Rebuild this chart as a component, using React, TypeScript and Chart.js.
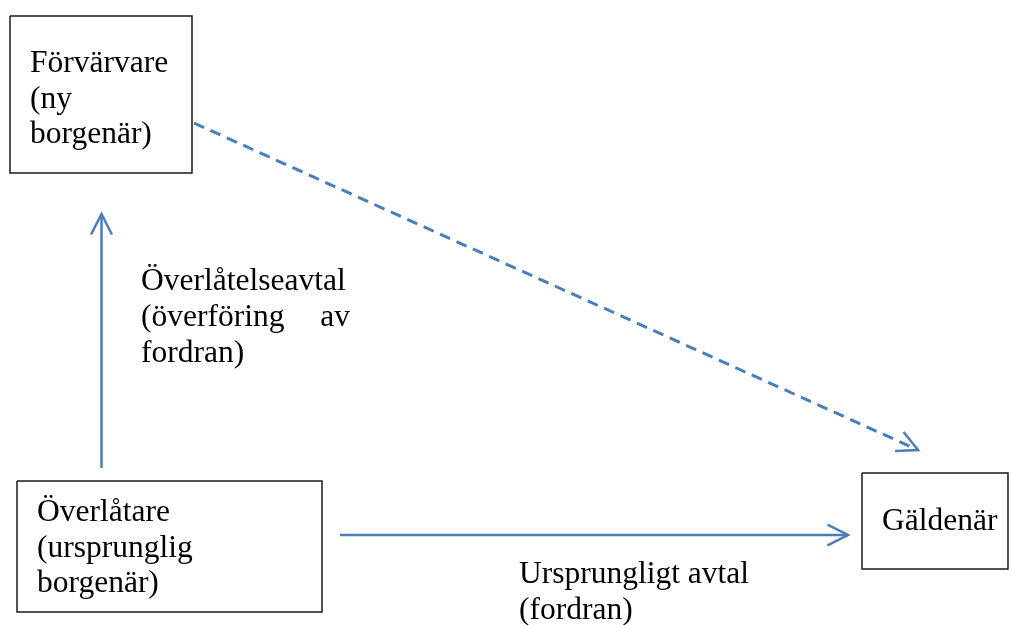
import React, { useEffect, useRef } from "react";
import { Chart, registerables } from "chart.js";
Chart.register(...registerables);

// Nodes (boxes) of the diagram, in diagram units (x: 0..1012, y: 0..625 downward)
const nodeLines: string[][] = [
  ["Förvärvare", "(ny", "borgenär)"],
  ["Överlåtare", "(ursprunglig", "borgenär)"],
  ["Gäldenär"],
];
const nodeLeft = [10, 17, 862];
const nodeTop = [16, 481, 473];
const nodeRight = [192, 322, 1008];
const nodeBottom = [173, 612, 569];
const nodeTextX = [30, 37, 882];
const nodeTextY = [72, 521, 530];

// Arrows between nodes
const edgeFromX = [101.5, 340, 194];
const edgeFromY = [468, 535, 123];
const edgeToX = [101.5, 848, 918];
const edgeToY = [214, 535, 450];
const edgeDashed = [false, false, true];

// Edge labels
const labelTexts = [
  "Överlåtelseavtal",
  "(överföring",
  "av",
  "fordran)",
  "Ursprungligt avtal",
  "(fordran)",
];
const labelX = [141, 141, 350, 141, 519, 519];
const labelY = [290, 326, 326, 362, 583, 619];
const labelAlign: CanvasTextAlign[] = ["left", "left", "right", "left", "left", "left"];

const LINE_HEIGHT = 35.5;
const BLUE = "#4A7EBB";

function arrowHead(x0: number, y0: number, x1: number, y1: number) {
  const ang = Math.atan2(y1 - y0, x1 - x0);
  const len = 23;
  const spread = (27 * Math.PI) / 180;
  return [
    { x: x1 - len * Math.cos(ang - spread), y: y1 - len * Math.sin(ang - spread) },
    { x: x1, y: y1 },
    { x: x1 - len * Math.cos(ang + spread), y: y1 - len * Math.sin(ang + spread) },
  ];
}

const textPlugin = {
  id: "diagramText",
  afterDatasetsDraw(chart: any) {
    const { ctx, scales } = chart;
    const sx = scales.x;
    const sy = scales.y;
    ctx.save();
    ctx.fillStyle = "#000";
    ctx.font = "31.5px 'Liberation Serif', 'Times New Roman', serif";
    ctx.textBaseline = "alphabetic";
    nodeLines.forEach((lines, i) => {
      lines.forEach((t, j) => {
        ctx.textAlign = "left";
        ctx.fillText(t, sx.getPixelForValue(nodeTextX[i]), sy.getPixelForValue(nodeTextY[i] + j * LINE_HEIGHT));
      });
    });
    labelTexts.forEach((t, i) => {
      ctx.textAlign = labelAlign[i];
      ctx.fillText(t, sx.getPixelForValue(labelX[i]), sy.getPixelForValue(labelY[i]));
    });
    ctx.restore();
  },
};

export default function App() {
  const ref = useRef<HTMLCanvasElement | null>(null);
  useEffect(() => {
    if (!ref.current) return;
    const datasets: any[] = [];
    nodeLines.forEach((_, i) => {
      datasets.push({
        data: [
          { x: nodeLeft[i], y: nodeTop[i] },
          { x: nodeRight[i], y: nodeTop[i] },
          { x: nodeRight[i], y: nodeBottom[i] },
          { x: nodeLeft[i], y: nodeBottom[i] },
          { x: nodeLeft[i], y: nodeTop[i] },
        ],
        showLine: true,
        borderColor: "#1a1a1a",
        borderWidth: 1.5,
        pointRadius: 0,
        fill: false,
        tension: 0,
        clip: false,
      });
    });
    edgeFromX.forEach((_, i) => {
      datasets.push({
        data: [
          { x: edgeFromX[i], y: edgeFromY[i] },
          { x: edgeToX[i], y: edgeToY[i] },
        ],
        showLine: true,
        borderColor: BLUE,
        borderWidth: edgeDashed[i] ? 3 : 2.5,
        borderDash: edgeDashed[i] ? [11, 7] : [],
        pointRadius: 0,
        fill: false,
        clip: false,
      });
      datasets.push({
        data: arrowHead(edgeFromX[i], edgeFromY[i], edgeToX[i], edgeToY[i]),
        showLine: true,
        borderColor: BLUE,
        borderWidth: 2.5,
        borderJoinStyle: "miter",
        pointRadius: 0,
        fill: false,
        clip: false,
      });
    });
    const chart = new Chart(ref.current, {
      type: "scatter",
      data: { datasets },
      options: {
        animation: false,
        responsive: true,
        maintainAspectRatio: false,
        events: [],
        layout: { padding: 0 },
        plugins: { legend: { display: false }, tooltip: { enabled: false } },
        scales: {
          x: { type: "linear", min: 0, max: 1012, display: false },
          y: { type: "linear", min: 0, max: 625, reverse: true, display: false },
        },
      },
      plugins: [textPlugin],
    });
    return () => chart.destroy();
  }, []);
  return (
    <div style={{ position: "absolute", left: 0, top: 0, width: 1012, height: 625, background: "#fff" }}>
      <canvas ref={ref} />
    </div>
  );
}
